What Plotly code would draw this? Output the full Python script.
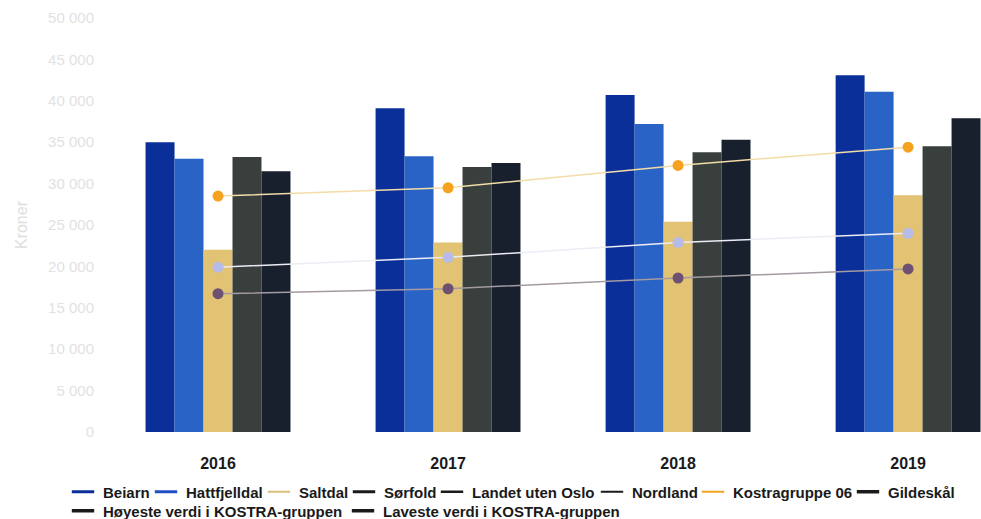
import plotly.graph_objects as go

years = ["2016", "2017", "2018", "2019"]

beiarn = [35000, 39100, 40700, 43100]
hattfjelldal = [33000, 33300, 37200, 41100]
saltdal = [22000, 22900, 25400, 28600]
sorfold = [33200, 32000, 33800, 34500]
gildeskal = [31500, 32500, 35300, 37900]

landet_uten_oslo = [16700, 17300, 18600, 19700]
nordland = [19900, 21100, 22900, 24000]
kostragruppe06 = [28500, 29500, 32200, 34400]

y_tickvals = [0, 5000, 10000, 15000, 20000, 25000, 30000, 35000, 40000, 45000, 50000]
y_ticktext = ["0", "5 000", "10 000", "15 000", "20 000", "25 000", "30 000",
              "35 000", "40 000", "45 000", "50 000"]

fig = go.Figure()

bar_series = [
    ("Beiarn", beiarn, "#0b2f98"),
    ("Hattfjelldal", hattfjelldal, "#2a63c6"),
    ("Saltdal", saltdal, "#e2c273"),
    ("Sørfold", sorfold, "#393f3d"),
    ("Gildeskål", gildeskal, "#18202e"),
]
for name, vals, col in bar_series:
    fig.add_trace(go.Bar(x=years, y=vals, name=name, marker=dict(color=col, line=dict(width=0)),
                         showlegend=False))

line_series = [
    ("Landet uten Oslo", landet_uten_oslo, "#a39aa3", "#6e5070"),
    ("Nordland", nordland, "#ececf4", "#b6bbe8"),
    ("Kostragruppe 06", kostragruppe06, "#f3dca8", "#f5a31e"),
]
for name, vals, lcol, mcol in line_series:
    fig.add_trace(go.Scatter(x=years, y=vals, name=name, mode="lines+markers",
                             line=dict(color=lcol, width=1.5),
                             marker=dict(color=mcol, size=11), showlegend=False))

# legend entries (short line swatches as in the reference), one small legend per entry
legend_items = [
    ("Beiarn", "#0b2f98", 3),
    ("Hattfjelldal", "#1f4fc0", 3),
    ("Saltdal", "#d9bf7a", 2),
    ("Sørfold", "#1a1a1a", 3),
    ("Landet uten Oslo", "#1a1a1a", 2.5),
    ("Nordland", "#1a1a1a", 2),
    ("Kostragruppe 06", "#f5a31e", 2),
    ("Gildeskål", "#1a1a1a", 3.5),
    ("Høyeste verdi i KOSTRA-gruppen", "#1a1a1a", 3.5),
    ("Laveste verdi i KOSTRA-gruppen", "#1a1a1a", 3.5),
]
legend_text_x = [103, 186, 299, 384, 472, 632, 733, 888, 103, 383]
legend_row_y = [492, 492, 492, 492, 492, 492, 492, 492, 511, 511]

legend_font = dict(size=15, color="#1a1a1a", weight="bold", family="Liberation Sans, Arial, sans-serif")
legend_layout = {}
for i, (name, col, w) in enumerate(legend_items):
    key = "legend" if i == 0 else f"legend{i + 1}"
    fig.add_trace(go.Scatter(x=[None], y=[None], name=name, mode="markers",
                             marker=dict(symbol="line-ew", size=20, color=col,
                                         line=dict(color=col, width=w)),
                             showlegend=True, legend=key))
    legend_layout[key] = dict(orientation="h", xref="container", yref="container",
                              x=(legend_text_x[i] - 40) / 981, y=1 - legend_row_y[i] / 519,
                              xanchor="left", yanchor="middle", font=legend_font,
                              itemwidth=30, bgcolor="rgba(0,0,0,0)")

fig.update_layout(
    width=981, height=519,
    margin=dict(l=103, r=0, t=18, b=87),
    paper_bgcolor="white", plot_bgcolor="white",
    barmode="group", bargap=0.37, bargroupgap=0,
    font=dict(family="Liberation Sans, Arial, sans-serif", color="#222"),
    xaxis=dict(type="category", range=[-0.5, 3.317], showgrid=False, showline=False,
               ticks="", ticklabelstandoff=20,
               tickfont=dict(size=16, color="#1a1a1a", family="Liberation Sans, Arial, sans-serif", weight="bold")),
    yaxis=dict(range=[0, 50000], tickvals=y_tickvals, ticktext=y_ticktext,
               showgrid=False, zeroline=False, showline=False, ticklabelstandoff=8,
               tickfont=dict(size=15, color="#e2e2e2"),
               title=dict(text="Kroner", font=dict(size=16, color="#dedede"), standoff=16)),
    showlegend=True,
    **legend_layout,
)

fig.write_html("out.html", config={"displayModeBar": False},
               post_script="document.body.style.margin='0';document.body.style.overflow='hidden';")
